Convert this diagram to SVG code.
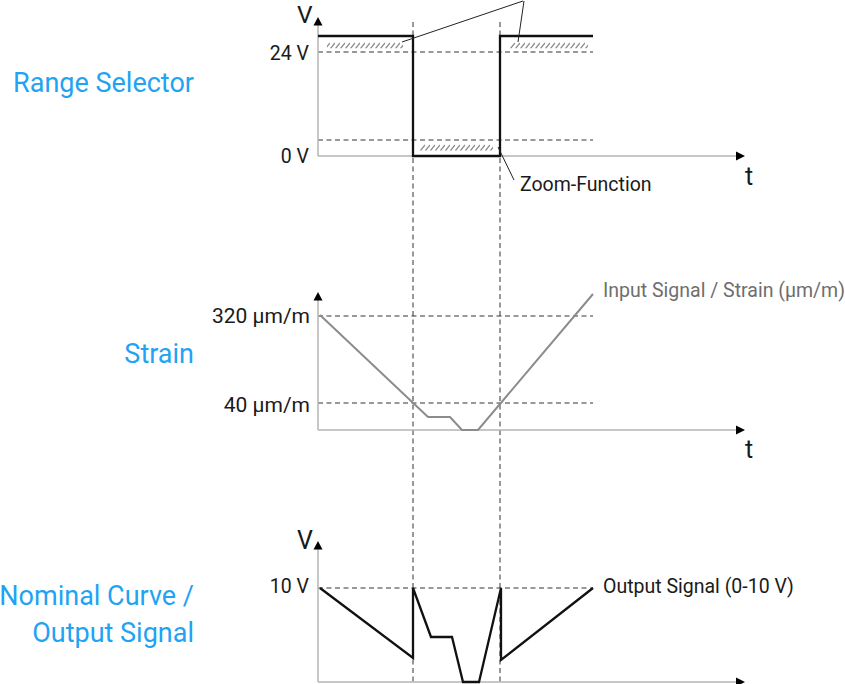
<svg xmlns="http://www.w3.org/2000/svg" width="845" height="684" viewBox="0 0 845 684">
<style>
.axis{stroke:#b4b4b4;stroke-width:1.5;fill:none}
.arr{fill:#000}
.dash{stroke:#333;stroke-width:1;stroke-dasharray:5,3.5;fill:none}
.sig{stroke:#111;stroke-width:2.3;fill:none;stroke-linejoin:miter}
.strain{stroke:#8c8c8c;stroke-width:2;fill:none}
.call{stroke:#222;stroke-width:1;fill:none}
.lbl{font-family:Roboto,"Liberation Sans",sans-serif;font-size:19.5px;fill:#1a1a1a}
.big{font-family:Roboto,"Liberation Sans",sans-serif;font-size:25px;fill:#1a1a1a}
.title{font-family:Roboto,"Liberation Sans",sans-serif;font-size:27px;fill:#1fa3f2}
.unit{font-family:Roboto,"Liberation Sans",sans-serif;font-size:21px;fill:#1a1a1a}
.gray{fill:#6e6e6e}
</style>
<defs>
<pattern id="hatch" patternUnits="userSpaceOnUse" width="5" height="7" x="0" y="42">
<path d="M0.5,6.5 L5,1" stroke="#8a8a8a" stroke-width="1.2"/>
</pattern>
<pattern id="hatch2" patternUnits="userSpaceOnUse" width="5" height="7" x="0" y="144">
<path d="M0.5,6.5 L5,1" stroke="#8a8a8a" stroke-width="1.2"/>
</pattern>
</defs>
<rect width="845" height="684" fill="#fff"/>

<g id="guides">
<line class="dash" x1="413" y1="22" x2="413" y2="684"/>
<line class="dash" x1="500" y1="22" x2="500" y2="684"/>
</g>

<g id="range-selector">
<text class="title" x="194" y="92" text-anchor="end">Range Selector</text>
<rect x="327" y="42" width="76" height="6.5" fill="url(#hatch)"/>
<rect x="510" y="42" width="78" height="6.5" fill="url(#hatch)"/>
<rect x="420" y="144" width="73" height="7" fill="url(#hatch2)"/>
<line class="dash" x1="318" y1="52" x2="593" y2="52"/>
<line class="dash" x1="318" y1="140" x2="593" y2="140"/>
<line class="axis" x1="318" y1="25" x2="318" y2="156"/>
<line class="axis" x1="318" y1="156" x2="736" y2="156"/>
<polygon class="arr" points="318,17 313.5,25.5 322.5,25.5"/>
<polygon class="arr" points="745,156 736,151.5 736,160.5"/>
<polyline class="sig" points="318,36 413,36 413,156 500,156 500,36 593,36"/>
<text class="big" x="297" y="23" style="font-size:24.5px">V</text>
<text class="big" x="745" y="185">t</text>
<text class="lbl" x="309" y="60" text-anchor="end">24 V</text>
<text class="lbl" x="309" y="163" text-anchor="end">0 V</text>
</g>

<g id="callouts">
<line class="call" x1="402" y1="42" x2="523" y2="1"/>
<line class="call" x1="518" y1="42" x2="524" y2="1"/>
<line class="call" x1="498" y1="147" x2="514" y2="180"/>
<text class="lbl" x="520" y="191">Zoom-Function</text>
</g>

<g id="strain">
<text class="title" x="194" y="363" text-anchor="end">Strain</text>
<line class="dash" x1="318" y1="316" x2="593" y2="316"/>
<line class="dash" x1="318" y1="403" x2="593" y2="403"/>
<line class="axis" x1="318" y1="300" x2="318" y2="430"/>
<line class="axis" x1="318" y1="430" x2="736" y2="430"/>
<polygon class="arr" points="318,292 313.5,300.5 322.5,300.5"/>
<polygon class="arr" points="745,430 736,425.5 736,434.5"/>
<polyline class="strain" points="320,315 428,417 450,417 462,430 478,430 593,294"/>
<text class="unit" x="310" y="323" text-anchor="end">320 µm/m</text>
<text class="unit" x="310" y="412" text-anchor="end">40 µm/m</text>
<text class="big" x="745" y="458">t</text>
<text class="lbl gray" x="603" y="297">Input Signal / Strain (µm/m)</text>
</g>

<g id="output">
<text class="title" x="194" y="605" text-anchor="end">Nominal Curve /</text>
<text class="title" x="194" y="642" text-anchor="end">Output Signal</text>
<line class="dash" x1="318" y1="588" x2="593" y2="588"/>
<line class="axis" x1="318" y1="549" x2="318" y2="682"/>
<line class="axis" x1="318" y1="682" x2="736" y2="682"/>
<polygon class="arr" points="318,541 313.5,549.5 322.5,549.5"/>
<polygon class="arr" points="745,682 736,677.5 736,686.5"/>
<polyline class="sig" points="320,588 413,658 413,588 431,637 452,637 463,682 479,682 501,588 501,660 593,588"/>
<text class="big" x="297" y="549">V</text>
<text class="lbl" x="309" y="593" text-anchor="end">10 V</text>
<text class="lbl" x="603" y="593">Output Signal (0-10 V)</text>
</g>
</svg>
